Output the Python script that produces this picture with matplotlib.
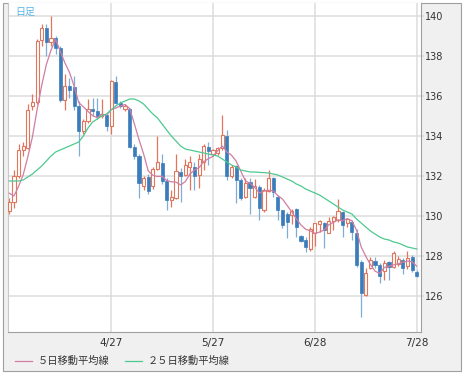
import numpy as np
import matplotlib
matplotlib.use('Agg')
import matplotlib.pyplot as plt
from matplotlib.patches import Rectangle
from matplotlib.lines import Line2D

# daily candles, 3/28 .. 7/28
opens = [130.25, 130.7, 132.0, 133.3, 133.4, 135.5, 135.7, 138.8, 139.4, 138.7,
         138.9, 138.4, 135.8, 136.5, 136.45, 135.5, 134.25, 134.75, 135.33, 135.25,
         135.0, 135.03, 134.5, 136.7, 135.63, 135.35, 135.33, 133.47, 133.0, 131.5,
         131.95, 131.5, 132.35, 132.67, 131.75, 130.8, 130.9, 132.22, 132.05, 132.43,
         132.45, 132.05, 132.7, 133.45, 133.1, 133.13, 133.38, 134.02, 132.0, 132.5,
         131.8, 130.97, 131.7, 130.97, 131.45, 130.3, 131.25, 131.88, 130.97, 130.3,
         130.1, 130.05, 130.33, 129.0, 128.8, 128.33, 129.13, 129.6, 129.63, 129.17,
         129.77, 129.8, 130.22, 129.63, 129.72, 129.13, 127.72, 126.05, 127.38, 127.77,
         127.55, 127.27, 127.72, 127.47, 127.6, 127.8, 127.5, 127.93, 127.2]
highs = [130.9, 132.3, 133.6, 133.7, 135.6, 136.1, 138.85, 139.6, 139.6, 140.0,
         139.0, 138.5, 137.1, 136.9, 137.0, 135.75, 134.85, 135.83, 135.92, 135.92,
         135.83, 135.17, 136.8, 137.0, 135.75, 135.6, 135.42, 133.58, 133.08, 132.0,
         132.1, 132.45, 134.0, 133.1, 131.9, 131.3, 133.1, 132.4, 132.85, 133.0,
         132.7, 133.1, 133.62, 133.72, 133.35, 133.45, 135.05, 134.3, 132.55, 132.55,
         131.9, 131.9, 131.9, 131.85, 131.55, 131.4, 132.3, 131.95, 131.05, 130.3,
         130.2, 130.35, 130.38, 129.05, 128.97, 129.47, 129.67, 129.8, 129.72, 129.97,
         130.0, 130.83, 130.27, 129.88, 129.8, 129.33, 127.8, 127.38, 127.93, 127.97,
         127.63, 127.8, 127.77, 128.27, 128.0, 127.88, 128.25, 128.05, 127.3]
lows = [130.1, 130.4, 131.9, 133.0, 133.35, 135.3, 135.6, 138.5, 138.0, 138.5,
        138.1, 135.7, 135.3, 135.9, 135.3, 133.0, 134.1, 134.67, 135.0, 134.83,
        134.92, 134.25, 134.08, 135.58, 135.4, 135.25, 133.42, 132.83, 130.92, 131.3,
        131.1, 131.35, 132.3, 131.6, 130.3, 130.45, 130.85, 130.7, 132.0, 131.3,
        131.3, 131.4, 132.3, 132.55, 133.0, 133.05, 133.3, 131.8, 131.9, 130.63,
        130.8, 130.9, 130.1, 130.9, 129.8, 130.2, 131.2, 130.95, 129.8, 129.4,
        128.9, 129.6, 128.97, 128.7, 128.2, 128.27, 128.5, 129.22, 128.4, 129.13,
        129.3, 129.72, 128.93, 129.47, 128.8, 127.45, 124.97, 126.0, 127.33, 127.4,
        126.63, 126.8, 126.8, 127.4, 127.5, 127.1, 127.35, 127.2, 126.95]
closes = [130.7, 132.0, 133.3, 133.5, 135.3, 135.7, 138.75, 139.4, 138.7, 138.9,
          138.4, 135.8, 136.5, 136.3, 135.5, 134.25, 134.75, 135.33, 135.25, 135.0,
          135.12, 134.5, 136.75, 135.63, 135.5, 135.5, 133.47, 133.0, 131.67, 131.9,
          131.25, 132.35, 132.7, 131.75, 130.8, 130.95, 132.27, 132.0, 132.55, 132.7,
          132.0, 132.85, 133.5, 133.27, 133.3, 133.38, 134.05, 132.0, 132.47, 131.8,
          130.88, 131.63, 131.38, 131.5, 130.38, 131.3, 131.88, 131.22, 130.3, 129.55,
          129.7, 130.27, 129.47, 128.77, 128.47, 129.33, 129.63, 129.77, 129.3, 129.77,
          129.93, 130.27, 129.55, 129.83, 129.22, 127.55, 126.13, 127.17, 127.8, 127.55,
          127.0, 127.63, 127.45, 128.13, 127.85, 127.4, 127.9, 127.3, 127.0]
# closes of the 4 days before the first candle (for the 5-day average)
prev_closes = [132.7, 130.9, 130.6, 130.8]

ma25 = [131.75, 131.75, 131.75, 131.8, 131.95, 132.1, 132.3, 132.5, 132.75, 133.0,
        133.2, 133.3, 133.4, 133.5, 133.6, 133.7, 134.0, 134.4, 134.7, 134.85,
        135.0, 135.1, 135.3, 135.5, 135.65, 135.75, 135.85, 135.85, 135.75, 135.6,
        135.35, 135.1, 134.9, 134.6, 134.3, 134.0, 133.75, 133.5, 133.35, 133.3,
        133.25, 133.2, 133.15, 133.1, 133.05, 133.0, 132.85, 132.7, 132.55, 132.45,
        132.3, 132.25, 132.2, 132.2, 132.18, 132.17, 132.15, 132.1, 132.05, 131.95,
        131.85, 131.75, 131.6, 131.5, 131.35, 131.25, 131.15, 131.05, 130.9, 130.75,
        130.6, 130.45, 130.3, 130.2, 130.1, 129.85, 129.65, 129.45, 129.25, 129.1,
        128.95, 128.85, 128.8, 128.7, 128.65, 128.55, 128.45, 128.4, 128.35]

date_pos = [22, 44, 66, 88]
date_labels = ['4/27', '5/27', '6/28', '7/28']

UP = '#e2765c'
DOWN = '#3b7dbb'
DOWN_WICK = '#7eaed6'
MA5_C = '#cf7ea4'
MA25_C = '#4dc98f'
GRID = '#dcdcdc'
JP = ['Noto Sans CJK JP', 'DejaVu Sans']

W, H = 465, 375
fig = plt.figure(figsize=(W / 100, H / 100), dpi=100)
fig.patch.set_facecolor('white')
fig.patches.append(Rectangle((3 / W, 1 - 371 / H), 458 / W, 368 / H,
                             transform=fig.transFigure, facecolor='#f0f0f0',
                             edgecolor='#a0a0a0', lw=0.8, zorder=-1))

ax = fig.add_axes([8 / W, 1 - 332 / H, 413 / W, 329 / H])
ax.set_zorder(1)
ax.set_facecolor('white')

n = len(closes)
x = np.arange(n)
o = np.array(opens)
c = np.array(closes)
up = c >= o

# wicks
ax.vlines(x, lows, highs, colors=[UP if u else DOWN_WICK for u in up], lw=0.9, zorder=2)
# bodies
bw = 0.68
for i in range(n):
    lo = min(o[i], c[i])
    hgt = max(abs(c[i] - o[i]), 0.03)
    if up[i]:
        ax.add_patch(Rectangle((i - bw / 2, lo), bw, hgt, facecolor='white',
                               edgecolor=UP, lw=0.8, zorder=3))
    else:
        ax.add_patch(Rectangle((i - bw / 2, lo), bw, hgt, facecolor=DOWN,
                               edgecolor=DOWN, lw=0.5, zorder=3))

# moving averages
allc = np.array(prev_closes + closes)
ma5 = np.convolve(allc, np.ones(5) / 5, mode='valid')
ax.plot(x, ma5, color=MA5_C, lw=0.9, zorder=4)
ax.plot(x, ma25, color=MA25_C, lw=0.9, zorder=4)

ax.set_xlim(-0.28, 88.92)
ax.set_ylim(124.2, 140.65)
ax.set_yticks(range(126, 141, 2))
ax.set_xticks(date_pos)
ax.set_xticklabels(date_labels)
ax.grid(True, color=GRID, lw=1.1, zorder=1)
ax.set_axisbelow(True)
ax.yaxis.tick_right()
ax.tick_params(axis='y', length=2, width=1.1, color=GRID, pad=1,
               labelsize=7, labelcolor='#333333')
ax.tick_params(axis='x', length=0, pad=4, labelsize=7.6, labelcolor='#333333')
ax.spines['top'].set_visible(False)
ax.spines['left'].set_color('#c8c8c8')
ax.spines['right'].set_color('#a0a0a0')
ax.spines['bottom'].set_color('#a0a0a0')
for s in ['left', 'right', 'bottom']:
    ax.spines[s].set_linewidth(0.8)

fig.text(15 / W, 1 - 12 / H, '日足', fontsize=7.2, family=JP, color='#55b4e6',
         va='center', zorder=5)

# legend
ly = 1 - 361 / H
fig.add_artist(Line2D([15 / W, 32 / W], [ly, ly], color=MA5_C, lw=0.9))
fig.text(38 / W, ly, '５日移動平均線', fontsize=7.4, family=JP, color='#333333', va='center')
fig.add_artist(Line2D([125 / W, 142 / W], [ly, ly], color=MA25_C, lw=0.9))
fig.text(148 / W, ly, '２５日移動平均線', fontsize=7.4, family=JP, color='#333333', va='center')

fig.savefig('out.png', dpi=100)
